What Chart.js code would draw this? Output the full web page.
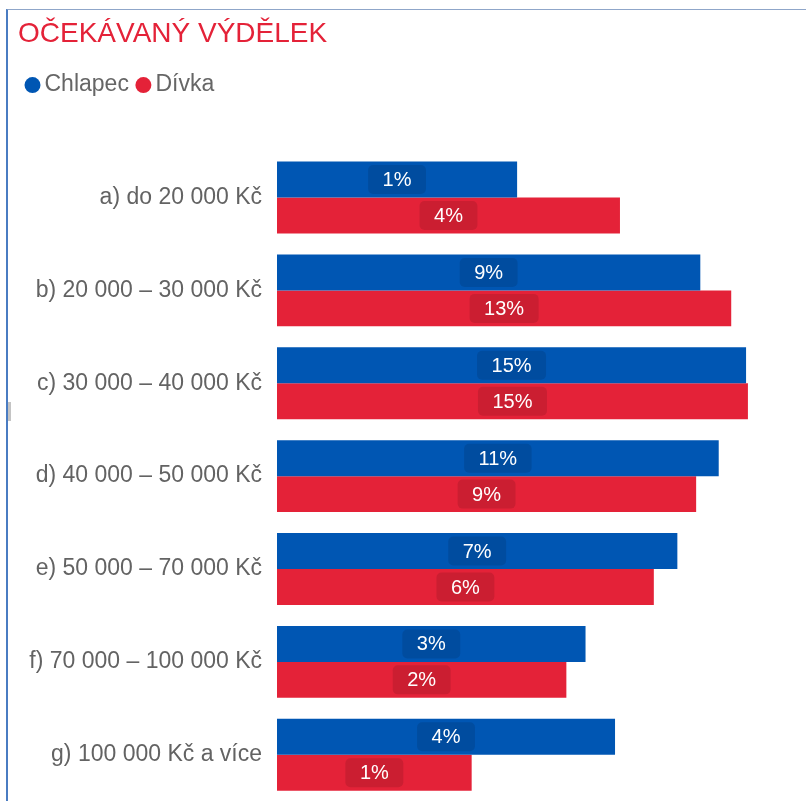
<!DOCTYPE html>
<html>
<head>
<meta charset="utf-8">
<script src="https://cdn.jsdelivr.net/npm/chart.js@4"></script>
<style>
  html, body { margin: 0; padding: 0; background: #fff; }
  #wrap { position: relative; width: 806px; height: 801px; overflow: hidden; }
  #frame { position: absolute; left: 6px; top: 9px; width: 900px; height: 900px;
    border-left: 2px solid #4a7cc2; border-top: 1px solid #8fa6c9; }
  #grip { position: absolute; left: 8px; top: 402px; width: 3px; height: 19px; background: #c4c4c4; }
  #chart { position: absolute; left: 0; top: 0; }
</style>
</head>
<body>
<div id="wrap">
  <div id="frame"></div>
  <div id="grip"></div>
  <canvas id="chart" width="806" height="830"></canvas>
</div>
<script>
// ==================== DATA ====================
const kategorie = [
  'a) do 20 000 Kč',
  'b) 20 000 – 30 000 Kč',
  'c) 30 000 – 40 000 Kč',
  'd) 40 000 – 50 000 Kč',
  'e) 50 000 – 70 000 Kč',
  'f) 70 000 – 100 000 Kč',
  'g) 100 000 Kč a více'
];
const chlapec = [1.3, 9.2, 15.0, 11.2, 7.2, 2.7, 3.7];
const divka   = [3.9, 12.8, 15.3, 8.8, 5.6, 2.2, 0.8];

const MODRA = '#0056b3';
const CERVENA = '#e42238';
const FONT = '"Liberation Sans", Arial, sans-serif';

// labels in the middle of each bar (no datalabels plugin offline)
const barLabels = {
  id: 'barLabels',
  afterDatasetsDraw(chart) {
    const ctx = chart.ctx;
    ctx.save();
    ctx.font = '20px ' + FONT;
    ctx.textAlign = 'center';
    ctx.textBaseline = 'middle';
    chart.data.datasets.forEach((ds, i) => {
      chart.getDatasetMeta(i).data.forEach((bar, j) => {
        const txt = Math.round(ds.data[j]) + '%';
        const cx = (bar.x + bar.base) / 2;
        const w = ctx.measureText(txt).width + 29;
        const h = 29;
        ctx.fillStyle = 'rgba(0,0,0,0.11)';
        ctx.beginPath();
        ctx.roundRect(cx - w / 2, bar.y - h / 2, w, h, 5);
        ctx.fill();
        ctx.fillStyle = '#ffffff';
        ctx.fillText(txt, cx, bar.y + 1);
      });
    });
    ctx.restore();
  }
};

new Chart(document.getElementById('chart').getContext('2d'), {
  type: 'bar',
  data: {
    labels: kategorie,
    datasets: [
      { label: 'Chlapec', data: chlapec, backgroundColor: MODRA, borderWidth: 0,
        categoryPercentage: 0.774, barPercentage: 1.0 },
      { label: 'Dívka', data: divka, backgroundColor: CERVENA, borderWidth: 0,
        categoryPercentage: 0.774, barPercentage: 1.0 }
    ]
  },
  options: {
    indexAxis: 'y',
    responsive: false,
    animation: false,
    layout: { padding: { left: 18, right: 33, top: 17, bottom: 0 } },
    plugins: {
      title: {
        display: true, text: 'OČEKÁVANÝ VÝDĚLEK', align: 'start',
        color: CERVENA, font: { family: FONT, size: 28, weight: 'normal' },
        padding: { top: 0, bottom: 9 }
      },
      legend: {
        display: true, align: 'start', position: 'top',
        labels: {
          usePointStyle: true, pointStyle: 'circle', boxWidth: 1, boxHeight: 11.3,
          color: '#666666', padding: 14, font: { family: FONT, size: 23 }
        }
      },
      tooltip: { enabled: false }
    },
    scales: {
      x: {
        type: 'logarithmic', min: 0.1, max: 20, position: 'top',
        ticks: { display: false }, grid: { display: false, drawTicks: false },
        border: { display: false },
        afterFit(scale) { scale.height = 44.5; }
      },
      y: {
        ticks: { color: '#636363', padding: 15, font: { family: FONT, size: 23 } },
        grid: { display: false, drawTicks: false },
        border: { display: false },
        afterFit(scale) { scale.width = 259; }
      }
    }
  },
  plugins: [barLabels]
});
</script>
</body>
</html>
